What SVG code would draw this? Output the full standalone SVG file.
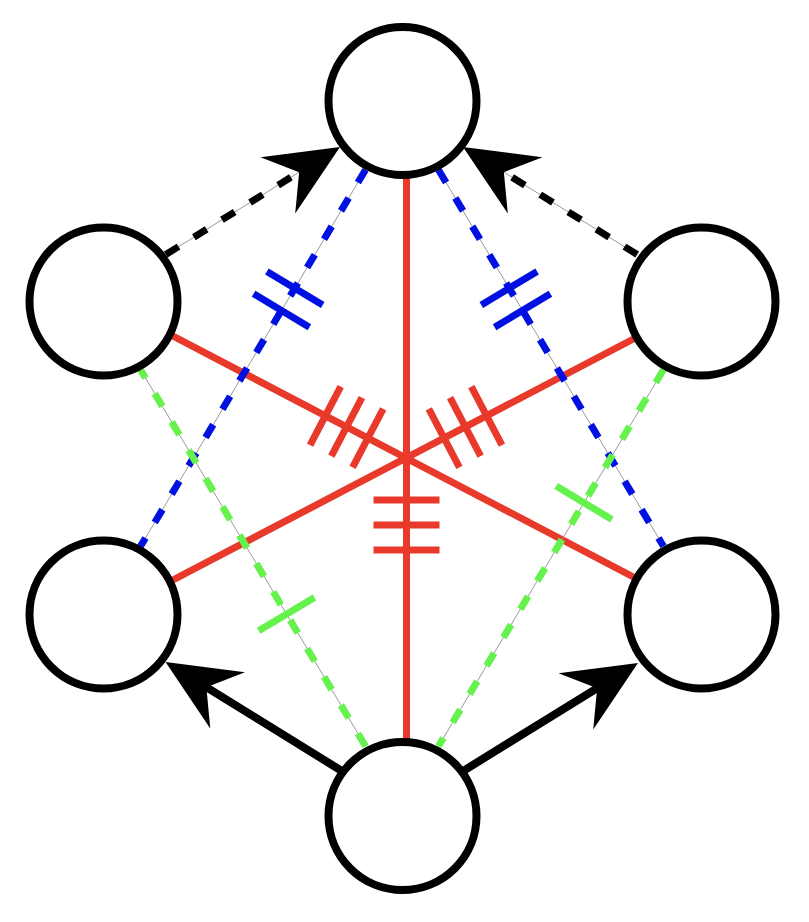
<svg xmlns="http://www.w3.org/2000/svg" width="809" height="922" viewBox="0 0 809 922">
<style>
.node{fill:#fff;stroke:#000;stroke-width:8}
.red{stroke:#e8392a;stroke-width:7;fill:none}
.guide{stroke:#999;stroke-width:1;fill:none}
.blue{stroke:#0010e0;stroke-width:7;fill:none}
.green{stroke:#66f24d;stroke-width:7;fill:none}
.dash{stroke-dasharray:15 18}
.black{stroke:#000;stroke-width:8;fill:none}
.bdash{stroke:#000;stroke-width:7;fill:none;stroke-dasharray:15 18}
</style>
<defs>
<marker id="ah" markerUnits="userSpaceOnUse" markerWidth="80" markerHeight="80" refX="0" refY="0" orient="auto" overflow="visible">
<path d="M25,0 L-48,-33 L-23,0 L-48,33 Z" fill="#000"/>
</marker>
</defs>
<rect width="809" height="922" fill="#fff"/>
<g id="connectors">
  <g id="red-edges">
    <line class="red" x1="406.5" y1="101" x2="406.5" y2="816"/>
    <line class="red" x1="106" y1="301" x2="706" y2="615"/>
    <line class="red" x1="706" y1="301" x2="106" y2="615"/>
    <g transform="translate(406.5,458)">
      <line class="red" x1="-33" y1="42" x2="33" y2="42"/>
      <line class="red" x1="-33" y1="67" x2="33" y2="67"/>
      <line class="red" x1="-33" y1="92" x2="33" y2="92"/>
    </g>
    <g transform="translate(406,458) rotate(27.62)">
      <line class="red" x1="-43" y1="-33" x2="-43" y2="33"/>
      <line class="red" x1="-67" y1="-33" x2="-67" y2="33"/>
      <line class="red" x1="-91" y1="-33" x2="-91" y2="33"/>
    </g>
    <g transform="translate(406,458) rotate(-27.62)">
      <line class="red" x1="43" y1="-33" x2="43" y2="33"/>
      <line class="red" x1="67" y1="-33" x2="67" y2="33"/>
      <line class="red" x1="91" y1="-33" x2="91" y2="33"/>
    </g>
  </g>
  <g id="blue-edges">
    <line class="guide" x1="365.6" y1="169.7" x2="140.5" y2="546.3"/>
    <line class="blue dash" x1="365.6" y1="169.7" x2="140.5" y2="546.3"/>
    <line class="blue" x1="266.9" y1="271.5" x2="322.7" y2="304.9"/>
    <line class="blue" x1="253.6" y1="293.8" x2="309.4" y2="327.2"/>
    <line class="guide" x1="438.4" y1="169.7" x2="663.5" y2="546.3"/>
    <line class="blue dash" x1="438.4" y1="169.7" x2="663.5" y2="546.3"/>
    <line class="blue" x1="537.1" y1="271.5" x2="481.3" y2="304.9"/>
    <line class="blue" x1="550.4" y1="293.8" x2="494.6" y2="327.2"/>
  </g>
  <g id="green-edges">
    <line class="guide" x1="365.6" y1="746.3" x2="140.5" y2="369.7"/>
    <line class="green dash" x1="365.6" y1="746.3" x2="140.5" y2="369.7"/>
    <line class="green" x1="258.7" y1="630.8" x2="314.5" y2="597.4"/>
    <line class="guide" x1="663.5" y1="369.7" x2="438.4" y2="746.3"/>
    <line class="green dash" x1="663.5" y1="369.7" x2="438.4" y2="746.3"/>
    <line class="green" x1="556.1" y1="486.1" x2="611.9" y2="519.5"/>
  </g>
  <g id="black-edges">
    <line class="guide" x1="165.8" y1="254.5" x2="318.7" y2="160.1"/>
    <line class="bdash" x1="165.8" y1="254.5" x2="318.7" y2="160.1" marker-end="url(#ah)"/>
    <line class="guide" x1="637.2" y1="254.5" x2="484.3" y2="160.1"/>
    <line class="bdash" x1="637.2" y1="254.5" x2="484.3" y2="160.1" marker-end="url(#ah)"/>
    <line class="black" x1="402.5" y1="808.5" x2="616.7" y2="676.1" marker-end="url(#ah)"/>
    <line class="black" x1="402.5" y1="808.5" x2="186.8" y2="675.1" marker-end="url(#ah)"/>
  </g>
</g>
<g id="node-top"><circle class="node" cx="402.5" cy="101" r="74"/></g>
<g id="node-upper-left"><circle class="node" cx="103.5" cy="301.5" r="74"/></g>
<g id="node-upper-right"><circle class="node" cx="701.5" cy="301.5" r="74"/></g>
<g id="node-lower-left"><circle class="node" cx="103.5" cy="614.5" r="74"/></g>
<g id="node-lower-right"><circle class="node" cx="701.5" cy="614.5" r="74"/></g>
<g id="node-bottom"><circle class="node" cx="402.5" cy="816" r="74"/></g>
</svg>
